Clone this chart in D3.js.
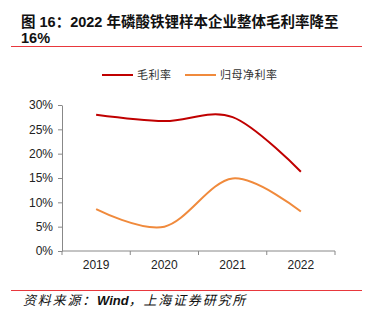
<!DOCTYPE html>
<meta charset="utf-8">
<title>磷酸铁锂样本企业毛利率</title>
<script src="https://cdn.jsdelivr.net/npm/d3@7/dist/d3.min.js"></script>
<style>
  body { margin:0; padding:0; background:#fff; }
  svg { display:block; }
  .title { font-family: 'Liberation Sans', 'Noto Sans CJK SC', sans-serif; font-weight: 700; font-size: 14.5px; fill:#111; }
  .src { font-family: 'Liberation Sans', 'Noto Sans CJK SC', sans-serif; font-style: italic; font-size: 13px; letter-spacing: 1.8px; fill:#111; }
  .src .en { font-weight: 700; letter-spacing: 0; }
  .axis text { font-family: 'Liberation Sans', Arial, sans-serif; font-size: 12px; fill:#222; }
  .axis path, .axis line { stroke:#888; }
  .legend text { font-family: 'Noto Sans CJK SC', sans-serif; font-size: 11px; letter-spacing: 0.5px; fill:#333; }
</style>
<body>
<div id="chart"></div>
<script>

var years = ['2019','2020','2021','2022'];
var grossMargin = [0.280, 0.267, 0.275, 0.163];   // 毛利率
var netMargin = [0.086, 0.050, 0.149, 0.081];     // 归母净利率
var yTicks = [0, 0.05, 0.10, 0.15, 0.20, 0.25, 0.30];

var series = [
  {name: '毛利率', values: grossMargin, color: '#C00000'},
  {name: '归母净利率', values: netMargin, color: '#F08A3C'}
];

var W = 366, H = 322;
var svg = d3.select('#chart').append('svg').attr('width', W).attr('height', H);

// title + rules
svg.append('text').attr('class','title').attr('x', 21).attr('y', 27)
  .text('图 16：2022 年磷酸铁锂样本企业整体毛利率降至');
svg.append('text').attr('class','title').attr('x', 21).attr('y', 43).text('16%');
svg.append('line').attr('x1', 11).attr('x2', 362).attr('y1', 46.5).attr('y2', 46.5)
  .attr('stroke', '#e8383d').attr('stroke-width', 1);
svg.append('line').attr('x1', 11).attr('x2', 362).attr('y1', 290.5).attr('y2', 290.5)
  .attr('stroke', '#e8383d').attr('stroke-width', 1);
svg.append('text').attr('class','src').attr('x', 23).attr('y', 305)
  .html('资料来源：<tspan class="en">Wind</tspan>，上海证券研究所');

var x = d3.scaleBand().domain(years).range([62, 335]);
var y = d3.scaleLinear().domain([0, 0.30]).range([251, 105]);

// y axis
svg.append('g').attr('class','axis').attr('transform','translate(62,0)')
  .call(d3.axisLeft(y).tickValues(yTicks).tickSize(4).tickSizeOuter(0).tickPadding(5)
    .tickFormat(function(d){ return Math.round(d*100) + '%'; }));

// x axis: ticks on the band boundaries
var gx = svg.append('g').attr('class','axis').attr('transform','translate(0,251)');
gx.append('line').attr('x1', 62).attr('x2', 335).attr('stroke', '#888');
var bounds = years.map(function(d){ return x(d); }).concat([x.range()[1]]);
gx.selectAll('.tk').data(bounds).enter().append('line')
  .attr('x1', function(d){ return d; }).attr('x2', function(d){ return d; })
  .attr('y1', 0).attr('y2', 4).attr('stroke', '#888');
gx.selectAll('.lbl').data(years).enter().append('text')
  .attr('x', function(d){ return x(d) + x.bandwidth()/2; })
  .attr('y', 18).attr('text-anchor', 'middle').text(function(d){ return d; });

// smoothed lines
var line = d3.line()
  .x(function(d, i){ return x(years[i]) + x.bandwidth()/2; })
  .y(function(d){ return y(d); })
  .curve(d3.curveCardinal.tension(0));

series.forEach(function(s) {
  svg.append('path').datum(s.values)
    .attr('d', line)
    .attr('fill', 'none')
    .attr('stroke', s.color)
    .attr('stroke-width', 2);
});

// legend
var legend = svg.append('g').attr('class','legend');
var lx = [102, 185];
series.forEach(function(s, i) {
  legend.append('line').attr('x1', lx[i]).attr('x2', lx[i] + 31)
    .attr('y1', 75).attr('y2', 75).attr('stroke', s.color).attr('stroke-width', 2);
  legend.append('text').attr('x', lx[i] + 35).attr('y', 79).text(s.name);
});

</script>
</body>
